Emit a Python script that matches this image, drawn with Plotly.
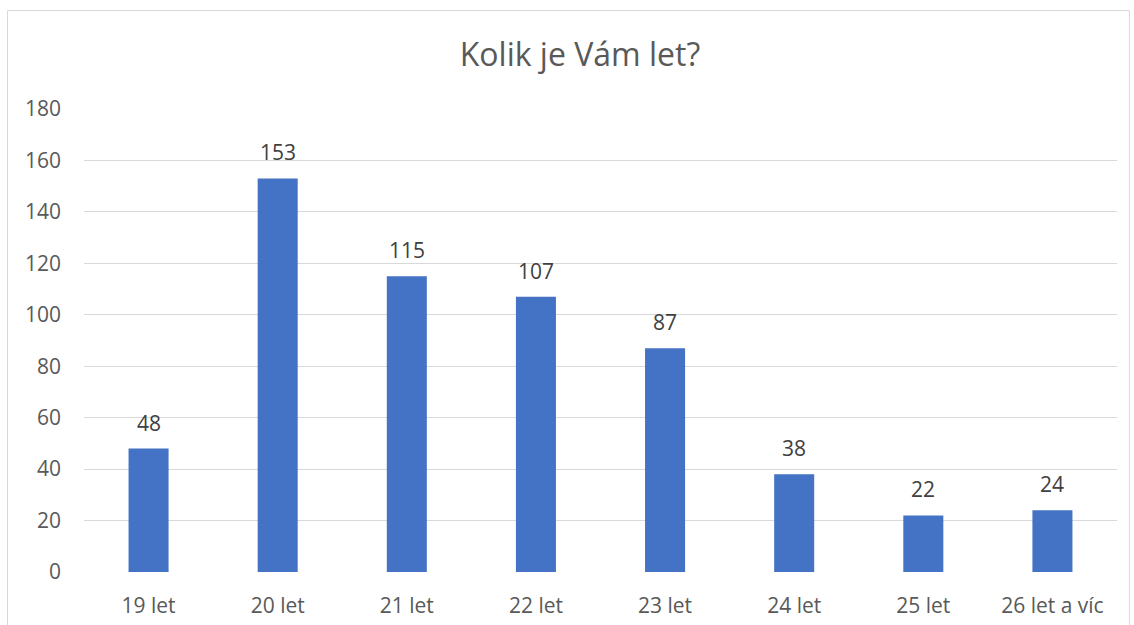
import plotly.graph_objects as go

categories = ["19 let", "20 let", "21 let", "22 let", "23 let", "24 let", "25 let", "26 let a víc"]
values = [48, 153, 115, 107, 87, 38, 22, 24]
y_ticks = [0, 20, 40, 60, 80, 100, 120, 140, 160, 180]

W, H = 1134, 625
ml, mr, mt, mb = 84, 17, 109, 53
pw, ph = W - ml - mr, H - mt - mb

def px_x(x):
    return (x - ml) / pw

def px_y(y):
    return (H - mb - y) / ph

FONT = "'Open Sans', sans-serif"

fig = go.Figure(go.Bar(
    x=categories, y=values,
    marker=dict(color="#4472c4", line=dict(width=0)),
))

for c, v in zip(categories, values):
    fig.add_annotation(x=c, y=v, xref="x", yref="y", text=str(v), showarrow=False,
                       yanchor="middle", yshift=26,
                       font=dict(color="#404040", size=21, family=FONT))

fig.update_layout(
    width=W, height=H,
    margin=dict(l=ml, r=mr, t=mt, b=mb, autoexpand=False),
    paper_bgcolor="white", plot_bgcolor="white",
    bargap=0.69,
    showlegend=False,
    title=dict(text="Kolik je Vám let?", x=px_x(580), xref="paper", xanchor="center",
               y=1 - 55 / H, yanchor="middle",
               font=dict(size=32, color="#595959", family=FONT)),
    xaxis=dict(tickfont=dict(size=21, color="#595959", family=FONT), automargin=False,
               showgrid=False, showline=False, ticks="", ticklabelstandoff=19),
    yaxis=dict(range=[0, 180], tickvals=y_ticks, tickfont=dict(size=21, color="#595959", family=FONT),
               automargin=False,
               showgrid=True, gridcolor="#d9d9d9", gridwidth=1, zeroline=False,
               showline=False, ticks="", ticklabelstandoff=22),
    shapes=[dict(type="rect", xref="paper", yref="paper",
                 x0=px_x(7.5), x1=px_x(1129.5), y0=px_y(640), y1=px_y(10.5),
                 line=dict(color="#d9d9d9", width=1), fillcolor="rgba(0,0,0,0)", layer="below")],
)

fig.write_html("out.html", config={"displayModeBar": False},
               post_script="document.body.style.margin='0';document.body.style.overflow='hidden';")
